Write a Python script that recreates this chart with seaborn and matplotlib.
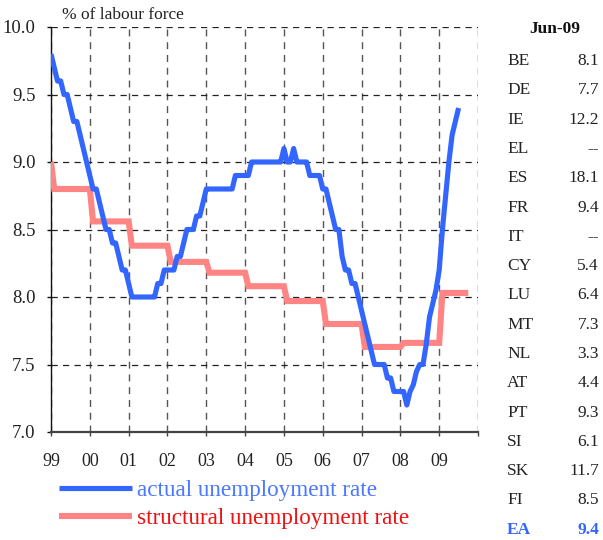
import numpy as np
import pandas as pd
import matplotlib
matplotlib.use("Agg")
import matplotlib.pyplot as plt
import seaborn as sns

# ---------------- data ----------------
# actual unemployment rate, monthly, Dec-1998 .. Jun-2009
actual = [9.8, 9.7, 9.6, 9.6, 9.5, 9.5, 9.4, 9.3, 9.3, 9.2,
          9.1, 9.0, 8.9, 8.8, 8.8, 8.7, 8.6, 8.5, 8.5, 8.4,
          8.4, 8.3, 8.2, 8.2, 8.1, 8.0, 8.0, 8.0, 8.0, 8.0,
          8.0, 8.0, 8.0, 8.1, 8.1, 8.2, 8.2, 8.2, 8.2, 8.3,
          8.3, 8.4, 8.5, 8.5, 8.5, 8.6, 8.6, 8.7, 8.8, 8.8,
          8.8, 8.8, 8.8, 8.8, 8.8, 8.8, 8.8, 8.9, 8.9, 8.9,
          8.9, 8.9, 9.0, 9.0, 9.0, 9.0, 9.0, 9.0, 9.0, 9.0,
          9.0, 9.0, 9.1, 9.0, 9.0, 9.1, 9.0, 9.0, 9.0, 9.0,
          8.9, 8.9, 8.9, 8.9, 8.8, 8.8, 8.7, 8.6, 8.5, 8.5,
          8.3, 8.2, 8.2, 8.1, 8.1, 8.0, 7.9, 7.8, 7.7, 7.6,
          7.5, 7.5, 7.5, 7.5, 7.4, 7.4, 7.3, 7.3, 7.3, 7.3,
          7.2, 7.3, 7.35, 7.45, 7.5, 7.5, 7.65, 7.85, 7.95, 8.05,
          8.2, 8.5, 8.75, 9.0, 9.2, 9.3, 9.4]

# structural unemployment rate, annual values 1998..2009 and months shown per year
struct_years = [1998, 1999, 2000, 2001, 2002, 2003, 2004, 2005, 2006, 2007, 2008, 2009]
struct_vals = [9.0, 8.8, 8.56, 8.38, 8.26, 8.18, 8.08, 7.97, 7.80, 7.63, 7.66, 8.03]
struct_months_shown = [1, 12, 12, 12, 12, 12, 12, 12, 12, 12, 12, 9]

x_tick_labels = ["99", "00", "01", "02", "03", "04", "05", "06", "07", "08", "09", ""]
y_ticks = [7.0, 7.5, 8.0, 8.5, 9.0, 9.5, 10.0]

table_countries = ["BE", "DE", "IE", "EL", "ES", "FR", "IT", "CY", "LU", "MT",
                   "NL", "AT", "PT", "SI", "SK", "FI", "EA"]
table_values = ["8.1", "7.7", "12.2", "--", "18.1", "9.4", "--", "5.4", "6.4", "7.3",
                "3.3", "4.4", "9.3", "6.1", "11.7", "8.5", "9.4"]
table_header = "Jun-09"

# ---------------- frames ----------------
df_act = pd.DataFrame({"t": 1999 + np.arange(len(actual)) / 12.0, "rate": actual})
s_monthly = np.repeat(struct_vals, struct_months_shown)
df_str = pd.DataFrame({"t": 1999 + np.arange(len(s_monthly)) / 12.0, "rate": s_monthly})

# ---------------- style ----------------
sns.set_theme(style="white")
plt.rcParams["font.family"] = ["Liberation Serif", "DejaVu Serif"]
plt.rcParams["text.color"] = "#222222"

BLUE = "#3366FF"
PINK = "#FF8585"

fig = plt.figure(figsize=(6.03, 5.40), dpi=100)
ax = fig.add_axes([51 / 603, 1 - 432 / 540, 427 / 603, 405 / 540])

sns.lineplot(data=df_str, x="t", y="rate", ax=ax, color=PINK, linewidth=4.4,
             estimator=None, sort=False, legend=False, zorder=3,
             solid_capstyle="butt", solid_joinstyle="miter",
             label="structural unemployment rate")
sns.lineplot(data=df_act, x="t", y="rate", ax=ax, color=BLUE, linewidth=3.7,
             estimator=None, sort=False, legend=False, zorder=4,
             solid_capstyle="butt", solid_joinstyle="round",
             label="actual unemployment rate")

ax.set_xlim(1999, 2010)
ax.set_ylim(7.0, 10.0)
years = list(range(1999, 2011))
ax.set_xticks(years)
ax.set_xticklabels(x_tick_labels)
ax.set_yticks(y_ticks)
ax.set_yticklabels([f"{v:.1f}" for v in y_ticks])
ax.set_xlabel("")
ax.set_ylabel("")

ax.grid(True, which="major", axis="y", color="#222222", linewidth=0.9,
        linestyle=(0, (5.0, 4.2)), zorder=1)
ax.grid(True, which="major", axis="x", color="#555555", linewidth=1.0,
        linestyle=(0, (5.0, 4.2)), zorder=1)
ax.set_axisbelow(True)

for side in ["top", "right"]:
    ax.spines[side].set_visible(False)
ax.spines["left"].set_color("#111111")
ax.spines["left"].set_linewidth(1.0)
ax.spines["bottom"].set_color("#444444")
ax.spines["bottom"].set_linewidth(1.6)

ax.tick_params(axis="x", direction="out", length=3, width=1, color="#444444",
               pad=12, labelsize=13, labelcolor="#222222", bottom=True)
ax.tick_params(axis="y", direction="out", length=3, width=1, color="#111111",
               pad=8, labelsize=13.5, labelcolor="#222222", left=True)

fig.text(62 / 603, 1 - 15 / 540, "% of labour force", fontsize=12.5,
         va="center", ha="left", color="#222222")

# legend
handles, labels = ax.get_legend_handles_labels()
order = [labels.index("actual unemployment rate"), labels.index("structural unemployment rate")]
leg = fig.legend([handles[i] for i in order], [labels[i] for i in order],
                 loc="upper left", bbox_to_anchor=(59 / 603, 1 - 480 / 540),
                 frameon=False, fontsize=16.7, handlelength=3.15, handletextpad=0.2,
                 labelspacing=0.3, borderpad=0.0, borderaxespad=0.0,
                 labelcolor=["#4A78FF", "#F01010"])

# table
fig.text(555 / 603, 1 - 29 / 540, table_header, fontsize=12.5, fontweight="bold",
         ha="center", va="center", color="#111111")
for k, (c, v) in enumerate(zip(table_countries, table_values)):
    y = 1 - (61 + 29.3 * k) / 540
    is_ea = c == "EA"
    col = BLUE if is_ea else "#222222"
    fw = "bold" if is_ea else "normal"
    fig.text(507 / 603, y, c, fontsize=12.5, ha="left", va="center", color=col, fontweight=fw)
    fig.text(599 / 603, y, v, fontsize=12.5, ha="right", va="center", color=col, fontweight=fw)

fig.savefig("out.png", dpi=100, facecolor="white")
